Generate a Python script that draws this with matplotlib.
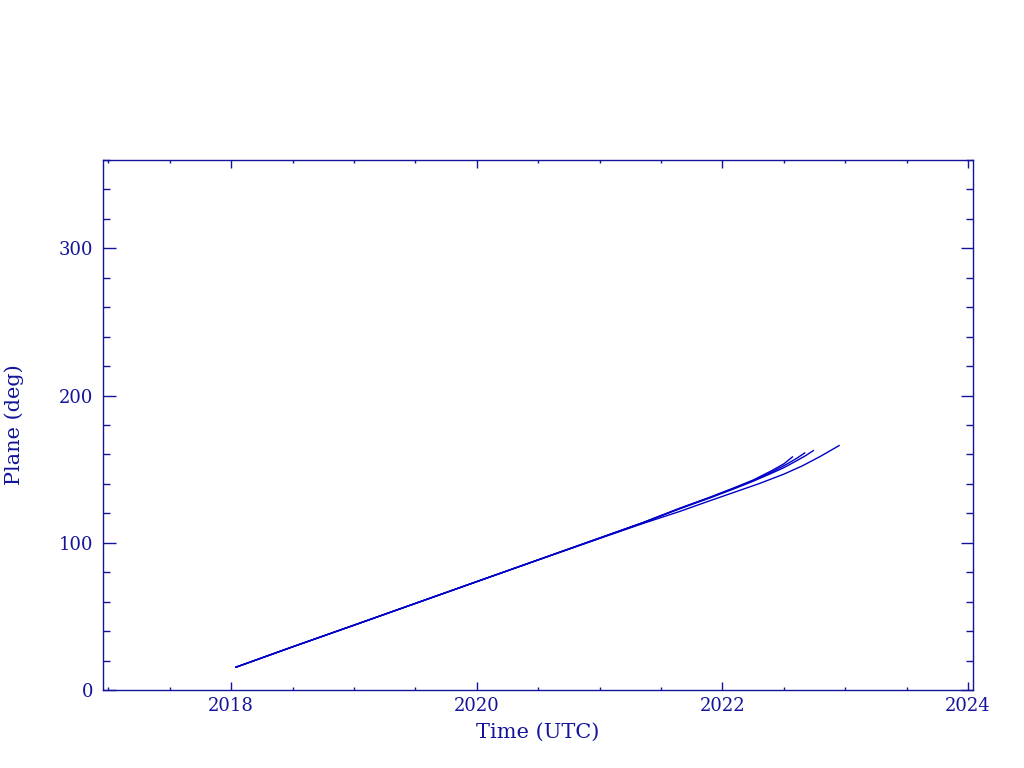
import matplotlib
matplotlib.use("Agg")
import matplotlib.pyplot as plt
from matplotlib.ticker import MultipleLocator

# Plane angle vs time for four tracks
t_a = [2018.04, 2018.5, 2019.0, 2019.5, 2020.0, 2020.5, 2021.0, 2021.35, 2021.65, 2021.9, 2022.1, 2022.25, 2022.4, 2022.5, 2022.57]
v_a = [15.5, 29.3, 44.0, 58.8, 73.6, 88.4, 103.2, 113.6, 123.4, 131.0, 137.5, 142.6, 148.9, 153.6, 158.3]

t_b = [2018.04, 2018.5, 2019.0, 2019.5, 2020.0, 2020.5, 2021.0, 2021.35, 2021.65, 2021.9, 2022.1, 2022.25, 2022.4, 2022.5, 2022.6, 2022.67]
v_b = [15.5, 29.3, 44.0, 58.8, 73.6, 88.4, 103.2, 113.6, 123.2, 130.8, 137.2, 142.2, 148.0, 152.3, 157.1, 161.0]

t_c = [2018.04, 2018.5, 2019.0, 2019.5, 2020.0, 2020.5, 2021.0, 2021.35, 2021.65, 2021.9, 2022.1, 2022.25, 2022.4, 2022.5, 2022.6, 2022.68, 2022.74]
v_c = [15.5, 29.3, 44.0, 58.8, 73.6, 88.4, 103.2, 113.5, 123.0, 130.5, 136.8, 141.8, 147.2, 151.0, 155.5, 159.3, 162.6]

t_d = [2018.04, 2018.5, 2019.0, 2019.5, 2020.0, 2020.5, 2021.0, 2021.35, 2021.65, 2021.9, 2022.1, 2022.3, 2022.5, 2022.65, 2022.8, 2022.95]
v_d = [15.5, 29.3, 44.0, 58.8, 73.6, 88.3, 102.9, 113.0, 121.2, 128.6, 134.4, 140.2, 146.6, 152.2, 158.8, 166.0]

axis_col = '#14149a'
line_col = '#0000c8'

plt.rcParams['font.family'] = ['DejaVu Serif']

fig = plt.figure(figsize=(10.24, 7.68), dpi=100)
ax = fig.add_axes([0.1006, 0.1016, 0.8496, 0.6901])

for t, v in [(t_a, v_a), (t_b, v_b), (t_c, v_c), (t_d, v_d)]:
    ax.plot(t, v, color=line_col, lw=1.0)

ax.set_xlim(2016.957, 2024.04)
ax.set_ylim(0, 360)
ax.xaxis.set_major_locator(MultipleLocator(2))
ax.xaxis.set_minor_locator(MultipleLocator(0.5))
ax.yaxis.set_major_locator(MultipleLocator(100))
ax.yaxis.set_minor_locator(MultipleLocator(20))

for s in ax.spines.values():
    s.set_color(axis_col)
    s.set_linewidth(1.0)

ax.tick_params(which='both', direction='in', top=True, right=True, colors=axis_col, labelcolor=axis_col, labelsize=13, width=1.0)
ax.tick_params(axis='x', which='major', length=6, pad=5)
ax.tick_params(axis='x', which='minor', length=2.5)
ax.tick_params(axis='y', which='major', length=9, pad=7)
ax.tick_params(axis='y', which='minor', length=5)

ax.set_xlabel('Time (UTC)', color=axis_col, fontsize=15)
ax.set_ylabel('Plane (deg)', color=axis_col, fontsize=15)
ax.xaxis.set_label_coords(0.5, -0.062)
ax.yaxis.set_label_coords(-0.091, 0.5)

fig.savefig('out.png', dpi=100)
